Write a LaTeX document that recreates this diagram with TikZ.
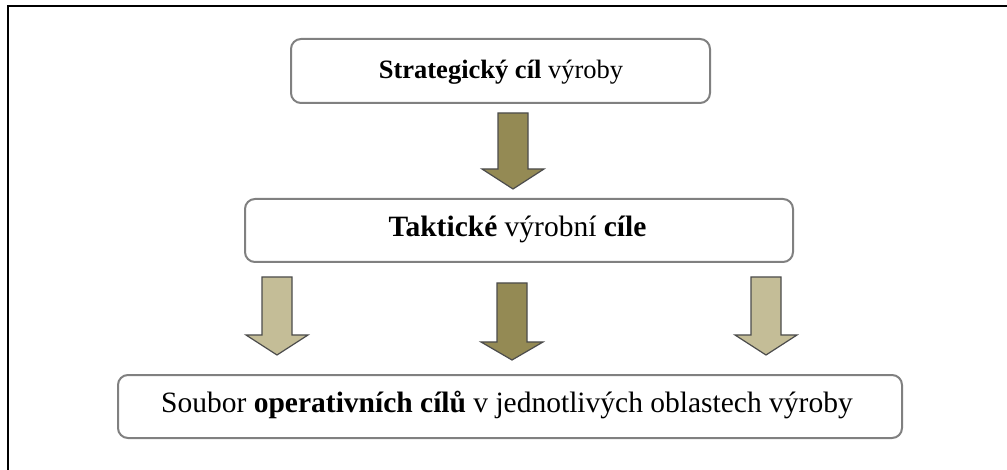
\documentclass[tikz,border=0pt]{standalone}
\usepackage{fontspec}
\setmainfont{Liberation Serif}
\definecolor{darkolive}{HTML}{948A54}
\definecolor{lightolive}{HTML}{C4BD97}
\definecolor{boxgray}{HTML}{808080}
\tikzset{
  goalbox/.style={draw=boxgray, line width=2pt, rounded corners=10pt, fill=white},
  goaltext/.style={font=\fontsize{29.5}{34}\selectfont, text=black, anchor=base},
  blockarrow/.style={draw=black!70, line width=1.2pt, line join=miter},
  frameline/.style={draw=black, line width=2.2pt}
}
% \barrow{name}{cx}{ytop}{yheadbase}{ytip}{colour}
\newcommand{\barrow}[6]{%
  \coordinate (#1-top) at (#2,#3);
  \coordinate (#1-tip) at (#2,#5);
  \draw[blockarrow, fill=#6]
    ($(#1-top)+(-15,0)$) -- ($(#1-top)+(15,0)$) -- ($(#2,#4)+(15,0)$) -- ($(#2,#4)+(31,0)$)
    -- (#1-tip) -- ($(#2,#4)+(-31,0)$) -- ($(#2,#4)+(-15,0)$) -- cycle;
}
\usetikzlibrary{calc}
\begin{document}
\begin{tikzpicture}[x=1pt,y=-1pt]
\useasboundingbox (0,0) rectangle (1007,470);
\fill[white] (0,0) rectangle (1007,470);
% frame (top and left only visible)
\draw[frameline] (8,470) -- (8,6) -- (1007,6);
% boxes
\draw[goalbox] (291,39) rectangle (710,103);
\node[goaltext, font=\fontsize{26.5}{31}\selectfont] (b1) at (501,79) {\textbf{Strategický cíl} výroby};
\draw[goalbox] (245,199) rectangle (793,262);
\node[goaltext] (b2) at (517.5,237) {\textbf{Taktické} výrobní \textbf{cíle}};
\draw[goalbox] (118,375) rectangle (902,438);
\node[goaltext] (b3) at (507,412) {Soubor \textbf{operativních cílů} v jednotlivých oblastech výroby};
% arrows
\barrow{a1}{513}{113}{169}{189}{darkolive}
\barrow{a2}{277}{277}{335}{355}{lightolive}
\barrow{a3}{512}{283}{342}{360}{darkolive}
\barrow{a4}{766}{277}{335}{355}{lightolive}
\end{tikzpicture}
\end{document}
